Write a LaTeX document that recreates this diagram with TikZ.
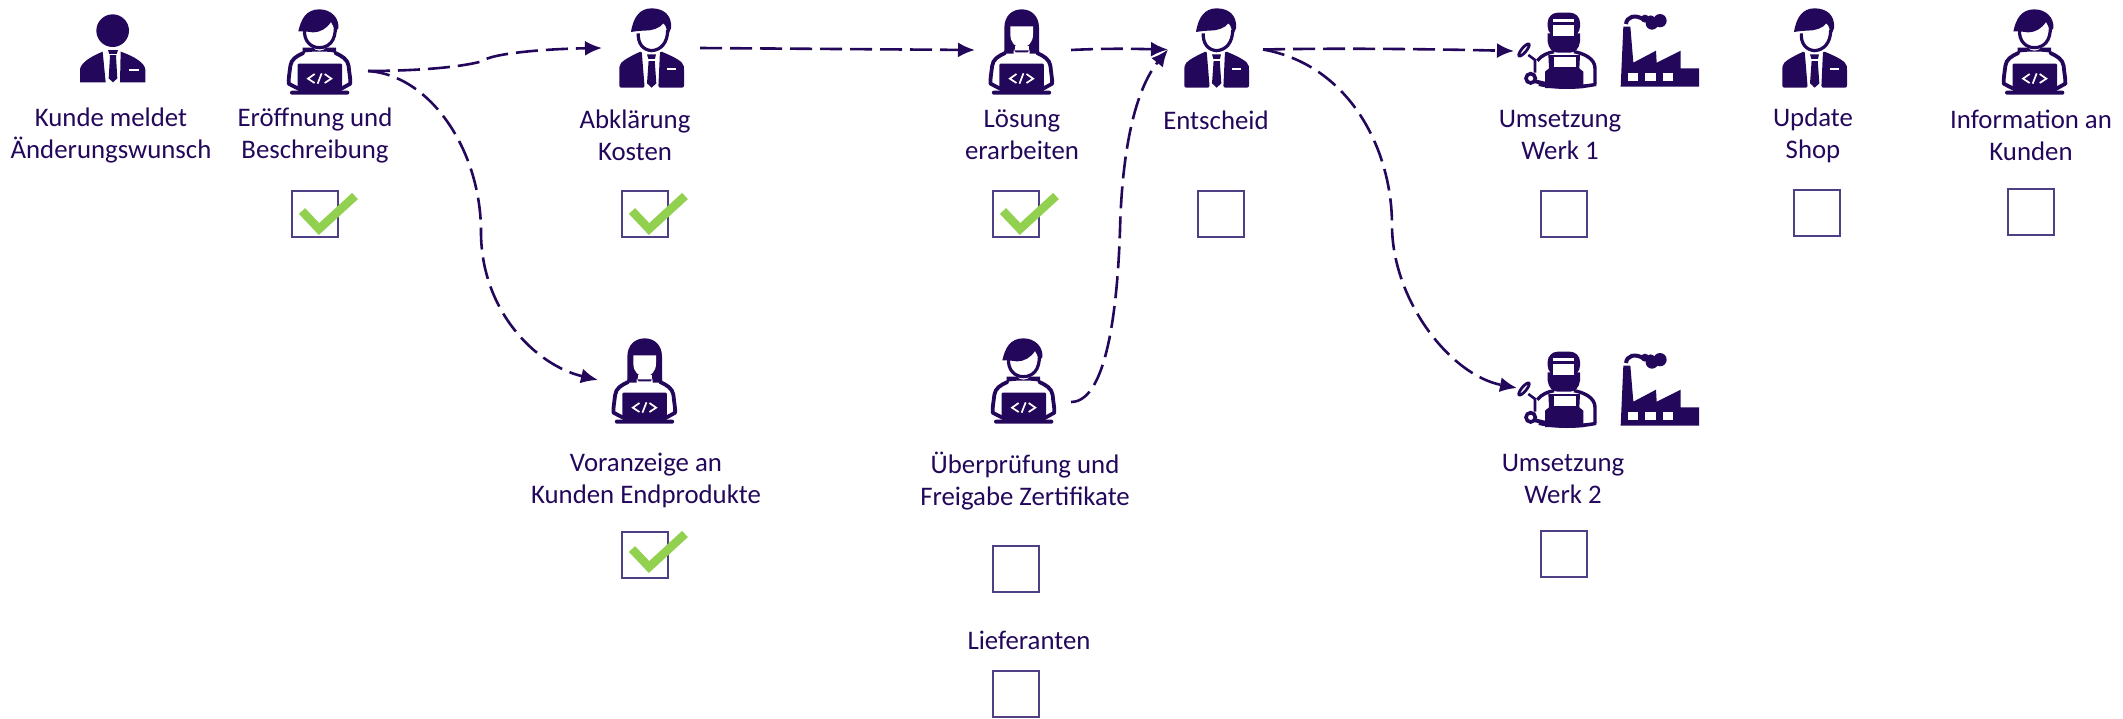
\documentclass[tikz,border=0pt]{standalone}
\usepackage{fontspec}
\setmainfont{Carlito}
\usetikzlibrary{arrows.meta}
\definecolor{ink}{HTML}{23075B}
\definecolor{boxline}{HTML}{4F3F85}
\definecolor{tickgreen}{HTML}{92D050}
\tikzset{
  x=1pt,y=-1pt,
  anchorbox/.style={inner sep=0pt,outer sep=0pt,minimum height=1pt},
  lbl/.style={text=ink,align=center,inner sep=0pt,font=\fontsize{26.8}{32}\selectfont},
  cbox/.style={draw=boxline,line width=1.4pt,minimum width=46pt,minimum height=46pt,inner sep=0pt,outer sep=0pt},
  flow/.style={draw=ink,line width=2.6pt,dash pattern=on 22pt off 8pt,-{Latex[length=17pt,width=15pt]}},
  zoomed/.style={x=0.33333pt,y=-0.33333pt},
  pics/body/.style={code={
    \begin{scope}[zoomed]
      \draw[ink,line width=3.8pt,line join=round,line cap=round]
        (142,186) .. controls (122,195) and (105,205) .. (103,225) .. controls (100,250) and (97,265) .. (98,278) -- (125,292);
      \draw[ink,line width=3.8pt,line join=round,line cap=round]
        (238,186) .. controls (258,195) and (275,205) .. (278,225) .. controls (280,250) and (284,265) .. (283,278) -- (258,292);
      \fill[ink,rounded corners=1pt] (125,218) rectangle (258,302);
      \fill[ink,rounded corners=2pt] (102,299) rectangle (280,311);
      \draw[white,line width=1.7pt] (176,249) -- (156,263) -- (176,276);
      \draw[white,line width=1.7pt] (206,249) -- (226,263) -- (206,276);
      \draw[white,line width=1.7pt] (185,278) -- (197,247);
    \end{scope}}},
  pics/devman/.style={code={
    \begin{scope}[zoomed]
      \pic at (0,0) {body};
      \fill[ink] (140,170) -- (172,170) .. controls (176,182) and (204,182) .. (210,170) -- (240,170) -- (240,186) .. controls (225,180) and (158,180) .. (140,186) -- cycle;
      \draw[ink,line width=3.2pt] (146,115) .. controls (142,150) and (165,170) .. (190,170) .. controls (218,170) and (240,150) .. (238,105);
      \fill[ink] (127,121) .. controls (135,85) and (150,55) .. (190,55)
        .. controls (225,55) and (250,80) .. (247,112) -- (238,122)
        .. controls (232,110) and (232,100) .. (225,93)
        .. controls (212,112) and (195,124) .. (170,124)
        .. controls (155,122) and (140,120) .. (127,121) -- cycle;
    \end{scope}}},
  pics/devwoman/.style={code={
    \begin{scope}[zoomed,xshift=-9.2pt]
      \pic at (0,0) {body};
    \end{scope}
    \begin{scope}[zoomed]
      \fill[ink] (112,188) -- (112,110) .. controls (112,75) and (135,55) .. (164,55)
        .. controls (193,55) and (216,75) .. (216,110) -- (216,188) -- (188,188) -- (188,176) -- (140,176) -- (140,188) -- cycle;
      \fill[white] (130,106) -- (198,106) -- (198,130) .. controls (198,155) and (182,170) .. (164,170) .. controls (146,170) and (130,155) .. (130,130) -- cycle;
      \fill[white] (143,165) rectangle (185,187);
      \fill[ink] (112,186) -- (140,175) -- (146,184) -- (182,184) -- (188,175) -- (216,186) -- (216,178) -- (112,178) -- cycle;
    \end{scope}}},
  pics/suitbody/.style={code={
    \begin{scope}[zoomed]
      \fill[ink,rounded corners=2pt] (283,263) -- (283,205) .. controls (285,185) and (310,172) .. (350,153) -- (359,263) -- cycle;
      \fill[ink,rounded corners=2pt] (477,263) -- (477,205) .. controls (475,185) and (450,172) .. (405,153) -- (400,263) -- cycle;
      \fill[ink] (366,163) -- (393,163) -- (389,180) -- (394,250) -- (380,263) -- (366,250) -- (371,180) -- cycle;
      \fill[white] (366,178) rectangle (393,182);
      \fill[white] (427,205) rectangle (453,211);
    \end{scope}}},
  pics/suitman/.style={code={
    \begin{scope}[zoomed]
      \pic at (0,0) {suitbody};
      \draw[ink,line width=3.2pt] (340,100) .. controls (338,128) and (352,150) .. (380,152) .. controls (408,150) and (428,128) .. (428,90);
      \fill[ink] (318,96) .. controls (325,50) and (345,25) .. (380,25)
        .. controls (415,25) and (442,45) .. (438,85) -- (428,108)
        .. controls (425,90) and (425,78) .. (415,70)
        .. controls (405,85) and (380,92) .. (358,92)
        .. controls (345,92) and (330,94) .. (318,96) -- cycle;
    \end{scope}}},
  pics/customer/.style={code={
    \begin{scope}[zoomed]
      \fill[ink] (248,92) circle[radius=49];
      \fill[ink] (150,247) -- (150,208) .. controls (152,190) and (180,170) .. (218,155) -- (227,247) -- cycle;
      \fill[ink] (346,247) -- (346,208) .. controls (344,190) and (316,170) .. (272,155) -- (270,247) -- cycle;
      \fill[ink] (234,150) -- (264,150) -- (258,168) -- (262,235) -- (249,247) -- (236,235) -- (240,168) -- cycle;
      \fill[white] (234,163) rectangle (264,166);
      \fill[white] (297,208) rectangle (326,213);
    \end{scope}}},
  pics/welder/.style={code={
    \begin{scope}[zoomed]
      \fill[ink,rounded corners=10pt] (203,38) rectangle (300,110);
      \fill[ink] (203,100) -- (300,100) -- (300,125) .. controls (298,145) and (285,158) .. (270,158) -- (233,158) .. controls (218,158) and (205,145) .. (203,125) -- cycle;
      \fill[white] (220,58) rectangle (283,65);
      \fill[white] (220,75) rectangle (283,108);
      \draw[ink,line width=3.4pt] (172,182) .. controls (185,165) and (205,158) .. (222,155);
      \draw[ink,line width=3.4pt] (282,155) .. controls (310,160) and (345,175) .. (345,205) -- (345,252);
      \fill[ink] (176,248) .. controls (230,258) and (290,258) .. (349,248) -- (349,258) .. controls (290,270) and (230,270) .. (176,258) -- cycle;
      \fill[ink] (205,165) -- (300,165) -- (298,205) -- (310,215) -- (310,264) -- (195,264) -- (195,215) -- (207,205) -- cycle;
      \fill[white] (222,172) rectangle (288,200);
      \draw[ink,line width=2.8pt,rotate around={50:(132,150)}] (132,150) ellipse[x radius=23,y radius=7];
      \draw[ink,line width=2.6pt] (145,165) -- (165,180) -- (165,218);
      \draw[ink,line width=3.6pt] (152,235) circle[radius=14];
      \fill[ink] (165,238) -- (195,245) -- (195,256) -- (165,250) -- cycle;
    \end{scope}}},
  pics/factory/.style={code={
    \begin{scope}[zoomed]
      \fill[ink] (430,80) -- (451,80) -- (460,188) -- (528,152) -- (530,188) -- (602,152) -- (602,205) -- (657,205) -- (657,260) -- (422,260) -- cycle;
      \draw[ink,line width=4pt] (438,72) .. controls (440,50) and (465,42) .. (490,58);
      \fill[ink] (495,56) circle[radius=12];
      \fill[ink] (516,70) circle[radius=19];
      \fill[ink] (540,62) circle[radius=20];
      \fill[ink] (512,60) circle[radius=14];
      \fill[white] (443,218) rectangle (475,242);
      \fill[white] (495,218) rectangle (528,242);
      \fill[white] (548,218) rectangle (580,242);
    \end{scope}}},
  pics/tick/.style={code={
    \draw[tickgreen,line width=8.5pt] (-13,-3) -- (4,15) -- (40,-18);
  }}
}
\begin{document}
\begin{tikzpicture}
\useasboundingbox (0,0) rectangle (2123,718);

% icons
\pic at (30,0) {customer};
\pic at (256,-9) {devman};
\pic at (525,0) {suitman};
\pic at (967,-9) {devwoman};
\pic at (1090,0) {suitman};
\pic at (1480,0) {welder};
\pic at (1480,0) {factory};
\pic at (1688,0) {suitman};
\pic at (1971,-9) {devman};
\pic at (590,320) {devwoman};
\pic at (960,320) {devman};
\pic at (1480,339) {welder};
\pic at (1480,339) {factory};

% connector ends
\node[anchorbox,minimum width=100pt] (nEroeff) at (318,71) {};
\node[anchorbox,minimum width=98pt] (nAbkl) at (651,48) {};
\node[anchorbox,minimum width=96pt] (nLoes) at (1023,50) {};
\node[anchorbox,minimum width=95pt] (nEnts) at (1215.5,49.5) {};
\node[anchorbox,minimum width=88pt] (nWerkA) at (1558,51) {};
\node[anchorbox,minimum width=94pt] (nVor) at (645,380) {};
\node[anchorbox,minimum width=96pt] (nPruef) at (1023,402) {};
\node[anchorbox,minimum width=92pt] (nWerkB) at (1563,388) {};

% labels
\node[lbl] (tKunde) at (111,135) {Kunde meldet\\Änderungswunsch};
\node[lbl] (tEroeff) at (315,135) {Eröffnung und\\Beschreibung};
\node[lbl] (tAbkl) at (635,135) {Abklärung\\Kosten};
\node[lbl] (tLoes) at (1022,135) {Lösung\\erarbeiten};
\node[lbl] (tEnts) at (1216,120) {Entscheid};
\node[lbl] (tWerkA) at (1560,135) {Umsetzung\\Werk 1};
\node[lbl] (tShop) at (1813,135) {Update\\Shop};
\node[lbl] (tInfo) at (2031,135) {Information an\\Kunden};
\node[lbl] (tVor) at (646,480) {Voranzeige an\\Kunden Endprodukte};
\node[lbl] (tPruef) at (1025,481) {Überprüfung und\\Freigabe Zertifikate};
\node[lbl] (tWerkB) at (1563,479) {Umsetzung\\Werk 2};
\node[lbl] (tLief) at (1029,640) {Lieferanten};

% check boxes
\node[cbox] (bEroeff) at (315,214) {};
\node[cbox] (bAbkl) at (645,214) {};
\node[cbox] (bLoes) at (1016,214) {};
\node[cbox] (bEnts) at (1221,214) {};
\node[cbox] (bWerkA) at (1564,214) {};
\node[cbox] (bShop) at (1817,213) {};
\node[cbox] (bInfo) at (2031,212) {};
\node[cbox] (bVor) at (645,555) {};
\node[cbox] (bPruef) at (1016,569) {};
\node[cbox] (bWerkB) at (1564,554) {};
\node[cbox] (bLief) at (1016,694) {};

% ticks
\pic at (bEroeff) {tick};
\pic at (bAbkl) {tick};
\pic at (bLoes) {tick};
\pic at ([yshift=3pt]bVor) {tick};

% connectors
\draw[flow] (nEroeff.east) .. controls (400,71) and (455,69) .. (483,61) .. controls (490,54) and (540,49) .. (nAbkl.west);
\draw[flow] (nEroeff.east) .. controls (430,75) and (481,150) .. (481,232) .. controls (481,310) and (535,365) .. (nVor.west);
\draw[flow] (nAbkl.east) -- (nLoes.west);
\draw[flow] (nLoes.east) .. controls (1110,48) and (1140,49) .. (nEnts.west);
\draw[flow] (nPruef.east) .. controls (1110,402) and (1118,290) .. (1120,230) .. controls (1122,150) and (1135,90) .. (nEnts.west);
\draw[flow] (nEnts.east) .. controls (1340,48) and (1430,49) .. (nWerkA.west);
\draw[flow] (nEnts.east) .. controls (1350,65) and (1392,150) .. (1392,225) .. controls (1392,300) and (1450,375) .. (nWerkB.west);
\end{tikzpicture}
\end{document}
